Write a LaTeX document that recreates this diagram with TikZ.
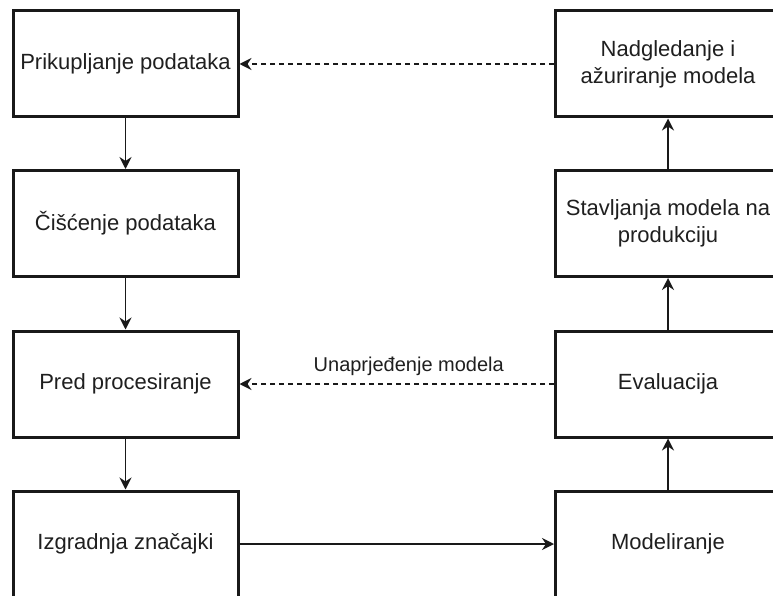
\documentclass[tikz,border=0pt]{standalone}
\usepackage{fontspec}
\setmainfont{Liberation Sans}
\usetikzlibrary{arrows.meta}
\begin{document}
\begin{tikzpicture}[x=1pt,y=-1pt,
  stepbox/.style={draw=black!90, line width=3pt, fill=white,
    minimum width=225pt, minimum height=106pt, inner sep=2pt,
    align=center, text=black!88, font=\fontsize{22}{27}\selectfont},
  flow/.style={line width=1.5pt, draw=black!90,
    -{Stealth[length=12pt,width=12pt,inset=4pt]}},
  back/.style={flow, dash pattern=on 5pt off 4pt},
  lbl/.style={text=black!88, font=\fontsize{20}{24}\selectfont}]
\useasboundingbox (0,0) rectangle (773,596);
\clip (0,0) rectangle (773,596);
% left column
\node[stepbox] (collect) at (125.5,64)  {Prikupljanje podataka};
\node[stepbox] (clean)   at (125.5,223.5) {Čišćenje podataka};
\node[stepbox] (prep)    at (125.5,384) {Pred procesiranje};
\node[stepbox] (feat)    at (125.5,544) {Izgradnja značajki};
% right column
\node[stepbox] (model)   at (668,544) {Modeliranje};
\node[stepbox] (eval)    at (668,384) {Evaluacija};
\node[stepbox] (deploy)  at (668,223.5) {Stavljanja modela na\\produkciju};
\node[stepbox] (monitor) at (668,64)  {Nadgledanje i\\ažuriranje modela};
% forward flow
\draw[flow] (collect) -- (clean);
\draw[flow] (clean) -- (prep);
\draw[flow] (prep) -- (feat);
\draw[flow] (feat) -- (model);
\draw[flow] (model) -- (eval);
\draw[flow] (eval) -- (deploy);
\draw[flow] (deploy) -- (monitor);
% feedback loops
\draw[back] (monitor) -- (collect);
\draw[back] (eval) -- node[lbl, above=4pt, xshift=12pt] {Unaprjeđenje modela} (prep);
\end{tikzpicture}
\end{document}
